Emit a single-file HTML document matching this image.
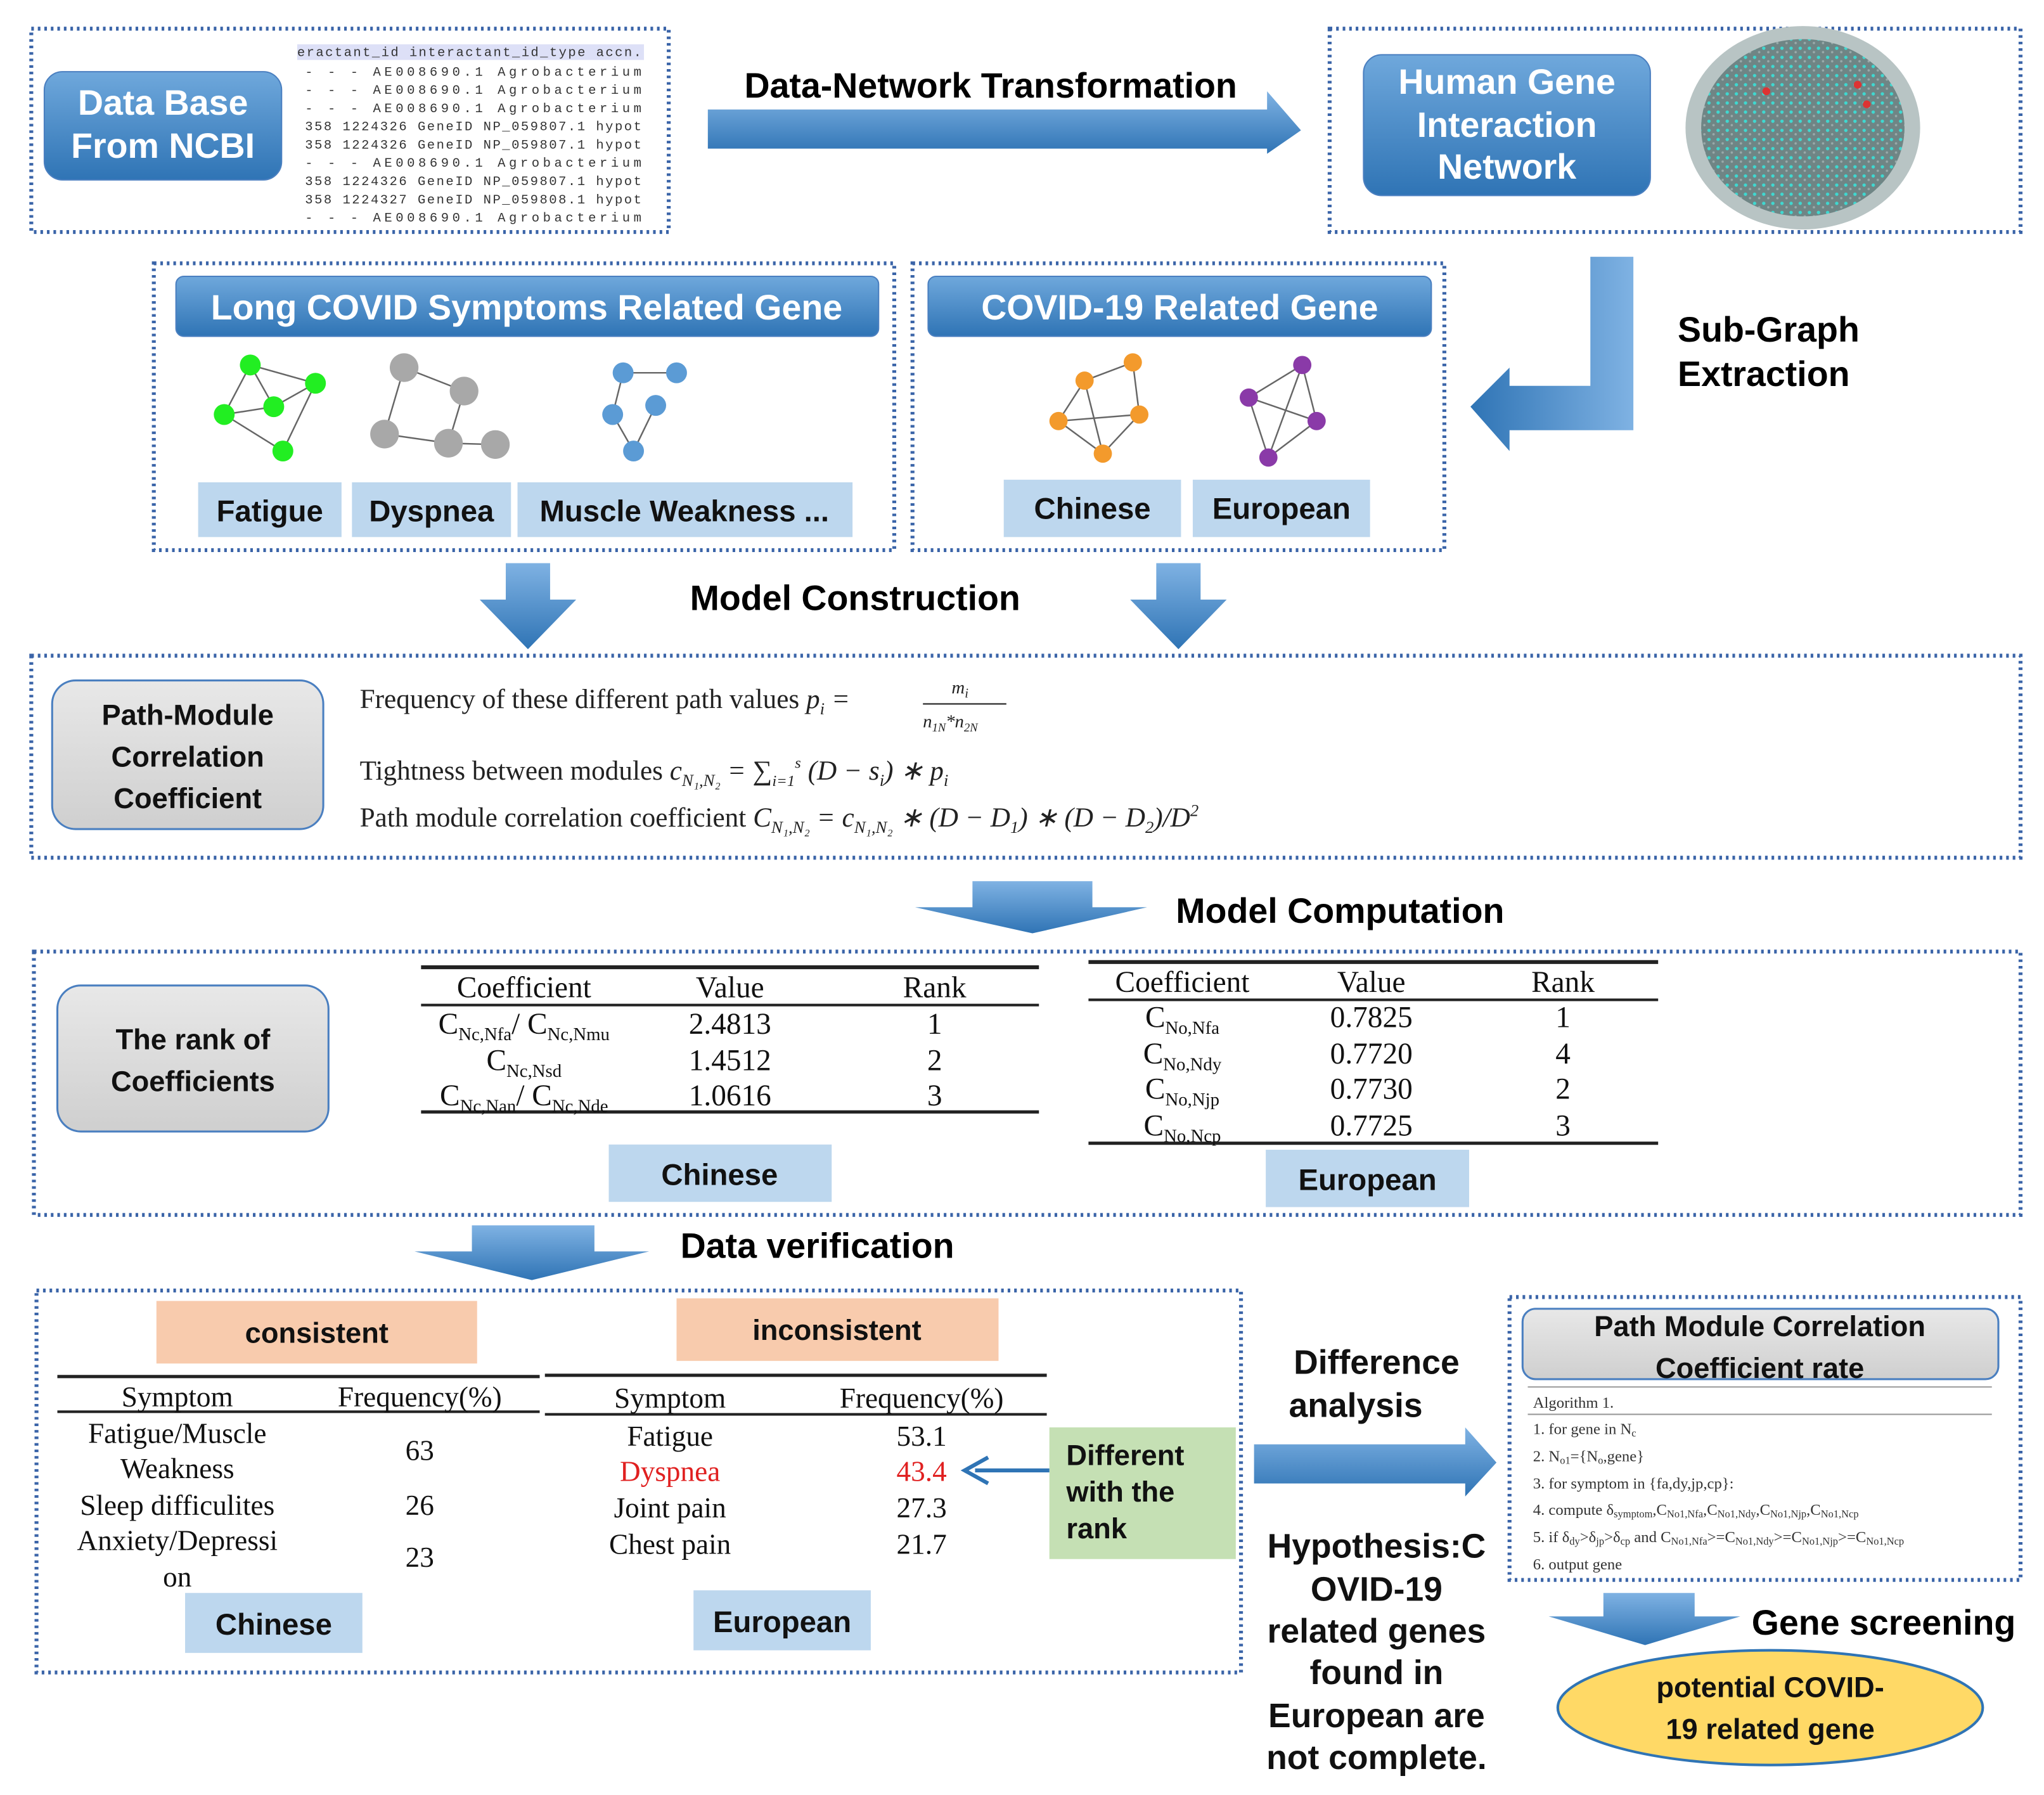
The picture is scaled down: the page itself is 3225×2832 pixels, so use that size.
<!DOCTYPE html>
<html><head><meta charset="utf-8"><style>
html,body{margin:0;padding:0;background:#fff;}
svg{display:block;}
.b{font-family:"Liberation Sans",sans-serif;font-weight:bold;}
.s{font-family:"Liberation Serif",serif;}
.m{font-family:"Liberation Mono",monospace;}
</style></head><body>
<svg width="3225" height="2832" viewBox="0 0 1568 1377" preserveAspectRatio="none" xmlns="http://www.w3.org/2000/svg">
<defs>
<linearGradient id="bg" x1="0" y1="0" x2="0" y2="1"><stop offset="0" stop-color="#6fa8dc"/><stop offset="1" stop-color="#2f74b5"/></linearGradient>
<linearGradient id="ag" x1="0" y1="0" x2="0" y2="1"><stop offset="0" stop-color="#7fb2e3"/><stop offset="1" stop-color="#2f74b5"/></linearGradient>
<linearGradient id="ah" x1="0" y1="0" x2="1" y2="0"><stop offset="0" stop-color="#2f74b5"/><stop offset="1" stop-color="#7fb2e3"/></linearGradient>
<linearGradient id="gg" x1="0" y1="0" x2="0" y2="1"><stop offset="0" stop-color="#e8e8e8"/><stop offset="1" stop-color="#cfcfcf"/></linearGradient>
<pattern id="dots" width="7" height="7" patternUnits="userSpaceOnUse"><rect width="7" height="7" fill="#6f8585"/><circle cx="2" cy="2" r="1.3" fill="#3fd8d0"/><circle cx="5.5" cy="5" r="0.9" fill="#9aa"/></pattern>
</defs>
<g fill="none" stroke="#3a64a8" stroke-width="3" stroke-dasharray="2 3">
<rect x="24" y="22" width="489" height="156"/>
<rect x="1020" y="22" width="530" height="156"/>
<rect x="118" y="202" width="568" height="220"/>
<rect x="700" y="202" width="408" height="220"/>
<rect x="24" y="503" width="1526" height="155"/>
<rect x="26" y="730" width="1524" height="202"/>
<rect x="28" y="990" width="924" height="293"/>
<rect x="1158" y="995" width="392" height="217"/>
</g>
<g stroke="#4a7fc0" stroke-width="1">
<rect x="34" y="55" width="182" height="83" rx="14" fill="url(#bg)"/>
<rect x="1046" y="42" width="220" height="108" rx="14" fill="url(#bg)"/>
<rect x="135" y="212" width="539" height="46" rx="6" fill="url(#bg)"/>
<rect x="712" y="212" width="386" height="46" rx="6" fill="url(#bg)"/>
</g>
<g class="b" fill="#fff" text-anchor="middle" font-size="27">
<text x="125" y="88">Data Base</text><text x="125" y="121">From NCBI</text>
<text x="1156" y="72">Human Gene</text><text x="1156" y="105">Interaction</text><text x="1156" y="137">Network</text>
<text x="404" y="245">Long COVID Symptoms Related Gene</text>
<text x="905" y="245">COVID-19 Related Gene</text>
</g>
<rect x="228" y="34" width="266" height="12" fill="#dde0f7"/>
<g class="m" font-size="10" fill="#333" lengthAdjust="spacing">
<text x="228" y="43" textLength="264">eractant_id interactant_id_type accn.</text>
<text x="234" y="58" textLength="258">-   -   -   AE008690.1 Agrobacterium</text>
<text x="234" y="72" textLength="258">-   -   -   AE008690.1 Agrobacterium</text>
<text x="234" y="86" textLength="258">-   -   -   AE008690.1 Agrobacterium</text>
<text x="234" y="100" textLength="258">358 1224326 GeneID NP_059807.1 hypot</text>
<text x="234" y="114" textLength="258">358 1224326 GeneID NP_059807.1 hypot</text>
<text x="234" y="128" textLength="258">-   -   -   AE008690.1 Agrobacterium</text>
<text x="234" y="142" textLength="258">358 1224326 GeneID NP_059807.1 hypot</text>
<text x="234" y="156" textLength="258">358 1224327 GeneID NP_059808.1 hypot</text>
<text x="234" y="170" textLength="258">-   -   -   AE008690.1 Agrobacterium</text>
</g>
<ellipse cx="1383" cy="98" rx="90" ry="78" fill="#b8c4c4"/>
<ellipse cx="1383" cy="98" rx="78" ry="68" fill="url(#dots)"/>
<g fill="#d33"><circle cx="1425" cy="65" r="3"/><circle cx="1355" cy="70" r="3"/><circle cx="1432" cy="80" r="3"/></g>
<polygon points="543,84 972,84 972,70 998,100 972,118 972,114 543,114" fill="url(#ag)"/>
<text class="b" x="760" y="75" font-size="27" text-anchor="middle">Data-Network Transformation</text>
<polygon points="1220,197 1253,197 1253,330 1158,330 1158,346 1128,312 1158,282 1158,296 1220,296" fill="url(#ah)"/>
<text class="b" x="1287" y="262" font-size="27">Sub-Graph</text>
<text class="b" x="1287" y="296" font-size="27">Extraction</text>
<polygon points="388,432 422,432 422,460 442,460 405,498 368,460 388,460" fill="url(#ag)"/>
<polygon points="887,432 921,432 921,460 941,460 904,498 867,460 887,460" fill="url(#ag)"/>
<text class="b" x="656" y="468" font-size="27" text-anchor="middle">Model Construction</text>
<polygon points="746,676 838,676 838,696 880,696 792,716 702,696 746,696" fill="url(#ag)"/>
<text class="b" x="1028" y="708" font-size="27" text-anchor="middle">Model Computation</text>
<polygon points="362,940 456,940 456,960 498,960 408,982 318,960 362,960" fill="url(#ag)"/>
<text class="b" x="627" y="965" font-size="27" text-anchor="middle">Data verification</text>
<polygon points="962,1108 1124,1108 1124,1095 1148,1122 1124,1148 1124,1138 962,1138" fill="url(#ag)"/>
<polygon points="1230,1222 1300,1222 1300,1240 1335,1240 1262,1262 1188,1240 1230,1240" fill="url(#ag)"/>
<text class="b" x="1445" y="1254" font-size="27" text-anchor="middle">Gene screening</text>
<g stroke="#666" stroke-width="1.2">
<line x1="192" y1="280" x2="242" y2="294"/><line x1="192" y1="280" x2="172" y2="318"/><line x1="192" y1="280" x2="210" y2="312"/><line x1="242" y1="294" x2="210" y2="312"/><line x1="242" y1="294" x2="217" y2="346"/><line x1="172" y1="318" x2="210" y2="312"/><line x1="172" y1="318" x2="217" y2="346"/>
<line x1="310" y1="282" x2="356" y2="300"/><line x1="356" y1="300" x2="344" y2="340"/><line x1="310" y1="282" x2="295" y2="333"/><line x1="295" y1="333" x2="344" y2="340"/><line x1="344" y1="340" x2="380" y2="341"/>
<line x1="478" y1="286" x2="519" y2="286"/><line x1="478" y1="286" x2="470" y2="318"/><line x1="503" y1="311" x2="486" y2="346"/><line x1="470" y1="318" x2="486" y2="346"/>
<line x1="869" y1="278" x2="832" y2="292"/><line x1="869" y1="278" x2="874" y2="318"/><line x1="832" y1="292" x2="812" y2="323"/><line x1="832" y1="292" x2="846" y2="348"/><line x1="812" y1="323" x2="874" y2="318"/><line x1="812" y1="323" x2="846" y2="348"/><line x1="874" y1="318" x2="846" y2="348"/>
<line x1="999" y1="280" x2="958" y2="305"/><line x1="999" y1="280" x2="1010" y2="323"/><line x1="999" y1="280" x2="973" y2="351"/><line x1="958" y1="305" x2="1010" y2="323"/><line x1="958" y1="305" x2="973" y2="351"/><line x1="1010" y1="323" x2="973" y2="351"/>
</g>
<g fill="#22ee22"><circle cx="192" cy="280" r="8"/><circle cx="242" cy="294" r="8"/><circle cx="172" cy="318" r="8"/><circle cx="210" cy="312" r="8"/><circle cx="217" cy="346" r="8"/></g>
<g fill="#a8a8a8"><circle cx="310" cy="282" r="11"/><circle cx="356" cy="300" r="11"/><circle cx="295" cy="333" r="11"/><circle cx="344" cy="340" r="11"/><circle cx="380" cy="341" r="11"/></g>
<g fill="#5b9bd5"><circle cx="478" cy="286" r="8"/><circle cx="519" cy="286" r="8"/><circle cx="470" cy="318" r="8"/><circle cx="503" cy="311" r="8"/><circle cx="486" cy="346" r="8"/></g>
<g fill="#f39a2c"><circle cx="869" cy="278" r="7"/><circle cx="832" cy="292" r="7"/><circle cx="812" cy="323" r="7"/><circle cx="874" cy="318" r="7"/><circle cx="846" cy="348" r="7"/></g>
<g fill="#8a3aa8"><circle cx="999" cy="280" r="7"/><circle cx="958" cy="305" r="7"/><circle cx="1010" cy="323" r="7"/><circle cx="973" cy="351" r="7"/></g>
<g fill="#bdd7ee">
<rect x="152" y="370" width="110" height="42"/><rect x="270" y="370" width="122" height="42"/><rect x="397" y="370" width="257" height="42"/>
<rect x="770" y="368" width="136" height="44"/><rect x="915" y="368" width="136" height="44"/>
<rect x="467" y="878" width="171" height="44"/><rect x="971" y="882" width="156" height="44"/>
<rect x="142" y="1222" width="136" height="46"/><rect x="532" y="1220" width="136" height="46"/>
</g>
<g class="b" font-size="23" text-anchor="middle" fill="#111">
<text x="207" y="400">Fatigue</text><text x="331" y="400">Dyspnea</text><text x="525" y="400">Muscle Weakness ...</text>
<text x="838" y="398">Chinese</text><text x="983" y="398">European</text>
<text x="552" y="909">Chinese</text><text x="1049" y="913">European</text>
<text x="210" y="1254">Chinese</text><text x="600" y="1252">European</text>
</g>
<g fill="url(#gg)" stroke="#4a7fc0" stroke-width="1.5">
<rect x="40" y="522" width="208" height="114" rx="18"/>
<rect x="44" y="756" width="208" height="112" rx="18"/>
<rect x="1168" y="1004" width="365" height="54" rx="10"/>
</g>
<g class="b" font-size="22" text-anchor="middle" fill="#111">
<text x="144" y="556">Path-Module</text><text x="144" y="588">Correlation</text><text x="144" y="620">Coefficient</text>
<text x="148" y="805">The rank of</text><text x="148" y="837">Coefficients</text>
<text x="1350" y="1025">Path Module Correlation</text><text x="1350" y="1057">Coefficient rate</text>
</g>
<g class="s" font-size="21" fill="#222">
<text x="276" y="543">Frequency of these different path values  <tspan font-style="italic">p<tspan font-size="13" dy="5">i</tspan><tspan dy="-5"> =</tspan></tspan></text>
<text x="730" y="532" font-size="14" font-style="italic">m<tspan font-size="10" dy="3">i</tspan></text>
<line x1="708" y1="540" x2="772" y2="540" stroke="#222" stroke-width="1"/>
<text x="708" y="558" font-size="14" font-style="italic">n<tspan font-size="9" dy="3">1N</tspan><tspan dy="-3">*n</tspan><tspan font-size="9" dy="3">2N</tspan></text>
<text x="276" y="598">Tightness between modules  <tspan font-style="italic">c<tspan font-size="13" dy="5">N₁,N₂</tspan><tspan dy="-5"> = ∑</tspan><tspan font-size="12" dy="5">i=1</tspan><tspan font-size="12" dy="-14">s</tspan><tspan dy="9"> (D − s</tspan><tspan font-size="13" dy="5">i</tspan><tspan dy="-5">) ∗ p</tspan><tspan font-size="13" dy="5">i</tspan></tspan></text>
<text x="276" y="634">Path module correlation coefficient  <tspan font-style="italic">C<tspan font-size="13" dy="5">N₁,N₂</tspan><tspan dy="-5"> = c</tspan><tspan font-size="13" dy="5">N₁,N₂</tspan><tspan dy="-5"> ∗ (D − D</tspan><tspan font-size="13" dy="5">1</tspan><tspan dy="-5">) ∗ (D − D</tspan><tspan font-size="13" dy="5">2</tspan><tspan dy="-5">)/D</tspan><tspan font-size="13" dy="-8">2</tspan></tspan></text>
</g>
<g stroke="#222">
<line x1="323" y1="742" x2="797" y2="742" stroke-width="3"/><line x1="323" y1="771" x2="797" y2="771" stroke-width="2"/><line x1="323" y1="853" x2="797" y2="853" stroke-width="2.5"/>
<line x1="835" y1="738" x2="1272" y2="738" stroke-width="3"/><line x1="835" y1="767" x2="1272" y2="767" stroke-width="2"/><line x1="835" y1="877" x2="1272" y2="877" stroke-width="2.5"/>
</g>
<g class="s" font-size="23" fill="#111" text-anchor="middle">
<text x="402" y="765">Coefficient</text><text x="560" y="765">Value</text><text x="717" y="765">Rank</text>
<text x="402" y="793">C<tspan font-size="14" dy="5">Nc,Nfa</tspan><tspan dy="-5">/ C</tspan><tspan font-size="14" dy="5">Nc,Nmu</tspan></text><text x="560" y="793">2.4813</text><text x="717" y="793">1</text>
<text x="402" y="821">C<tspan font-size="14" dy="5">Nc,Nsd</tspan></text><text x="560" y="821">1.4512</text><text x="717" y="821">2</text>
<text x="402" y="848">C<tspan font-size="14" dy="5">Nc,Nan</tspan><tspan dy="-5">/ C</tspan><tspan font-size="14" dy="5">Nc,Nde</tspan></text><text x="560" y="848">1.0616</text><text x="717" y="848">3</text>
<text x="907" y="761">Coefficient</text><text x="1052" y="761">Value</text><text x="1199" y="761">Rank</text>
<text x="907" y="788">C<tspan font-size="14" dy="5">No,Nfa</tspan></text><text x="1052" y="788">0.7825</text><text x="1199" y="788">1</text>
<text x="907" y="816">C<tspan font-size="14" dy="5">No,Ndy</tspan></text><text x="1052" y="816">0.7720</text><text x="1199" y="816">4</text>
<text x="907" y="843">C<tspan font-size="14" dy="5">No,Njp</tspan></text><text x="1052" y="843">0.7730</text><text x="1199" y="843">2</text>
<text x="907" y="871">C<tspan font-size="14" dy="5">No,Ncp</tspan></text><text x="1052" y="871">0.7725</text><text x="1199" y="871">3</text>
</g>
<rect x="120" y="998" width="246" height="48" fill="#f8cbad"/>
<rect x="519" y="996" width="247" height="48" fill="#f8cbad"/>
<rect x="805" y="1095" width="143" height="101" fill="#c5e0b4"/>
<g class="b" font-size="22" fill="#111">
<text x="243" y="1030" text-anchor="middle">consistent</text>
<text x="642" y="1028" text-anchor="middle">inconsistent</text>
<text x="818" y="1124">Different</text><text x="818" y="1152">with the</text><text x="818" y="1180">rank</text>
</g>
<g stroke="#222">
<line x1="44" y1="1056" x2="414" y2="1056" stroke-width="2.5"/><line x1="44" y1="1083" x2="414" y2="1083" stroke-width="2"/>
<line x1="418" y1="1055" x2="803" y2="1055" stroke-width="2.5"/><line x1="418" y1="1085" x2="803" y2="1085" stroke-width="2"/>
</g>
<g class="s" font-size="22" fill="#111" text-anchor="middle">
<text x="136" y="1079">Symptom</text><text x="322" y="1079">Frequency(%)</text>
<text x="136" y="1107">Fatigue/Muscle</text><text x="136" y="1134">Weakness</text><text x="322" y="1120">63</text>
<text x="136" y="1162">Sleep difficulites</text><text x="322" y="1162">26</text>
<text x="136" y="1189">Anxiety/Depressi</text><text x="136" y="1217">on</text><text x="322" y="1202">23</text>
<text x="514" y="1080">Symptom</text><text x="707" y="1080">Frequency(%)</text>
<text x="514" y="1109">Fatigue</text><text x="707" y="1109">53.1</text>
<text x="514" y="1136" fill="#e02020">Dyspnea</text><text x="707" y="1136" fill="#e02020">43.4</text>
<text x="514" y="1164">Joint pain</text><text x="707" y="1164">27.3</text>
<text x="514" y="1192">Chest pain</text><text x="707" y="1192">21.7</text>
</g>
<line x1="805" y1="1128" x2="748" y2="1128" stroke="#2f74b5" stroke-width="3"/>
<polyline points="758,1118 740,1128 758,1138" fill="none" stroke="#2f74b5" stroke-width="3"/>
<g class="b" font-size="26" fill="#111" text-anchor="middle">
<text x="1056" y="1054">Difference</text><text x="1040" y="1087">analysis</text>
<text x="1056" y="1195">Hypothesis:C</text><text x="1056" y="1228">OVID-19</text><text x="1056" y="1260">related genes</text>
<text x="1056" y="1292">found in</text><text x="1056" y="1325">European are</text><text x="1056" y="1357">not complete.</text>
</g>
<line x1="1172" y1="1064" x2="1528" y2="1064" stroke="#999" stroke-width="1"/>
<line x1="1172" y1="1085" x2="1528" y2="1085" stroke="#999" stroke-width="1"/>
<g class="s" font-size="12" fill="#333">
<text x="1176" y="1080">Algorithm 1.</text>
<text x="1176" y="1100">1.  for gene in N<tspan font-size="8" dy="2">c</tspan></text>
<text x="1176" y="1121">2.       N<tspan font-size="8" dy="2">o1</tspan><tspan dy="-2">={N</tspan><tspan font-size="8" dy="2">o</tspan><tspan dy="-2">,gene}</tspan></text>
<text x="1176" y="1142">3.       for symptom in {fa,dy,jp,cp}:</text>
<text x="1176" y="1162">4.            compute   δ<tspan font-size="8" dy="2">symptom</tspan><tspan dy="-2">,C</tspan><tspan font-size="8" dy="2">No1,Nfa</tspan><tspan dy="-2">,C</tspan><tspan font-size="8" dy="2">No1,Ndy</tspan><tspan dy="-2">,C</tspan><tspan font-size="8" dy="2">No1,Njp</tspan><tspan dy="-2">,C</tspan><tspan font-size="8" dy="2">No1,Ncp</tspan></text>
<text x="1176" y="1183">5.       if  δ<tspan font-size="8" dy="2">dy</tspan><tspan dy="-2">&gt;δ</tspan><tspan font-size="8" dy="2">jp</tspan><tspan dy="-2">&gt;δ</tspan><tspan font-size="8" dy="2">cp</tspan><tspan dy="-2">  and  C</tspan><tspan font-size="8" dy="2">No1,Nfa</tspan><tspan dy="-2">&gt;=C</tspan><tspan font-size="8" dy="2">No1,Ndy</tspan><tspan dy="-2">&gt;=C</tspan><tspan font-size="8" dy="2">No1,Njp</tspan><tspan dy="-2">&gt;=C</tspan><tspan font-size="8" dy="2">No1,Ncp</tspan></text>
<text x="1176" y="1204">6.             output gene</text>
</g>
<ellipse cx="1358" cy="1310" rx="163" ry="44" fill="#ffd966" stroke="#2f74b5" stroke-width="2"/>
<g class="b" font-size="22" fill="#111" text-anchor="middle">
<text x="1358" y="1302">potential COVID-</text><text x="1358" y="1334">19 related gene</text>
</g>
</svg>
</body></html>
